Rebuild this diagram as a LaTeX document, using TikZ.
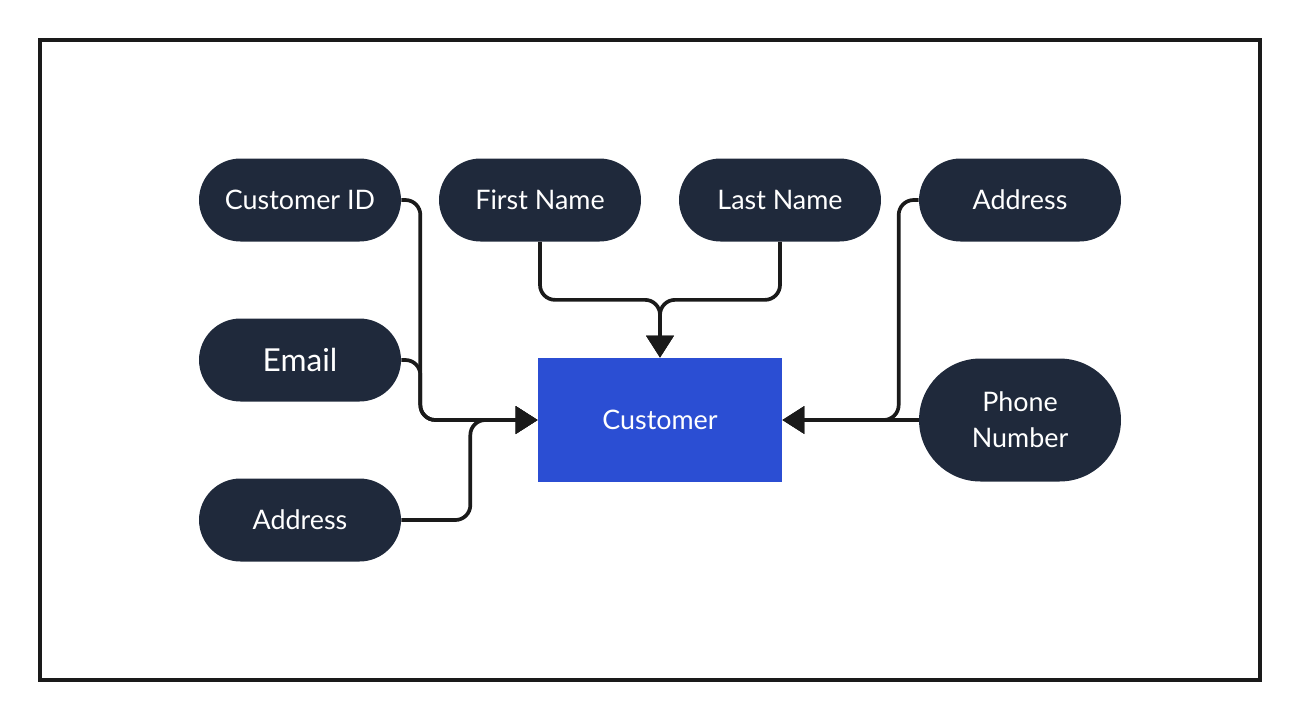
\documentclass[tikz,border=0pt]{standalone}
\usepackage{fontspec}
\setmainfont{Lato}
\usetikzlibrary{arrows.meta,shapes.misc}
\definecolor{pilldark}{HTML}{1F293B}
\definecolor{custblue}{HTML}{2B4ED3}
\definecolor{linedark}{HTML}{1A1A1A}

\begin{document}
\begin{tikzpicture}[x=0.02cm, y=-0.02cm,
    attr/.style={rounded rectangle, fill=pilldark, text=white, minimum width=4.04cm, minimum height=1.66cm, font=\fontsize{15.3}{18}\selectfont, align=center, inner sep=0pt},
    ent/.style={rectangle, fill=custblue, text=white, minimum width=4.88cm, minimum height=2.48cm, font=\fontsize{15.3}{18}\selectfont, inner sep=0pt},
    link/.style={draw=linedark, line width=2.1pt, rounded corners=0.3cm},
    tip/.style={-{Triangle[length=0.44cm, width=0.54cm]}}]
    \useasboundingbox (0,0) rectangle (1300,721);
    \draw[line width=2.1pt, linedark] (40,40) rectangle (1260,680);

    % attributes round the entity
    \node[attr] (custid) at (300,200) {Customer ID};
    \node[attr] (fname) at (540,200) {First Name};
    \node[attr] (lname) at (780,200) {Last Name};
    \node[attr] (addrR) at (1020,200) {Address};
    \node[attr, font=\fontsize{18}{21}\selectfont] (email) at (300,360) {Email};
    \node[attr] (addrL) at (300,520) {Address};
    \node[attr, minimum height=2.46cm, font=\fontsize{15.3}{20.5}\selectfont] (phone) at (1020,420) {Phone\\Number};
    \node[ent] (cust) at (660,420) {Customer};

    % connectors
    \draw[link, tip] (custid.east) -- ++(19,0) |- (cust.west);
    \draw[link, tip] (email.east) -- ++(19,0) |- (cust.west);
    \draw[link, tip] (addrL.east) -- ++(69,0) |- (cust.west);
    \draw[link, tip] (fname.south) -- ++(0,58) -| (cust.north);
    \draw[link, tip] (lname.south) -- ++(0,58) -| (cust.north);
    \draw[link, tip] (addrR.west) -- ++(-20,0) |- (cust.east);
    \draw[link, tip] (phone.west) -- (cust.east);
\end{tikzpicture}
\end{document}
